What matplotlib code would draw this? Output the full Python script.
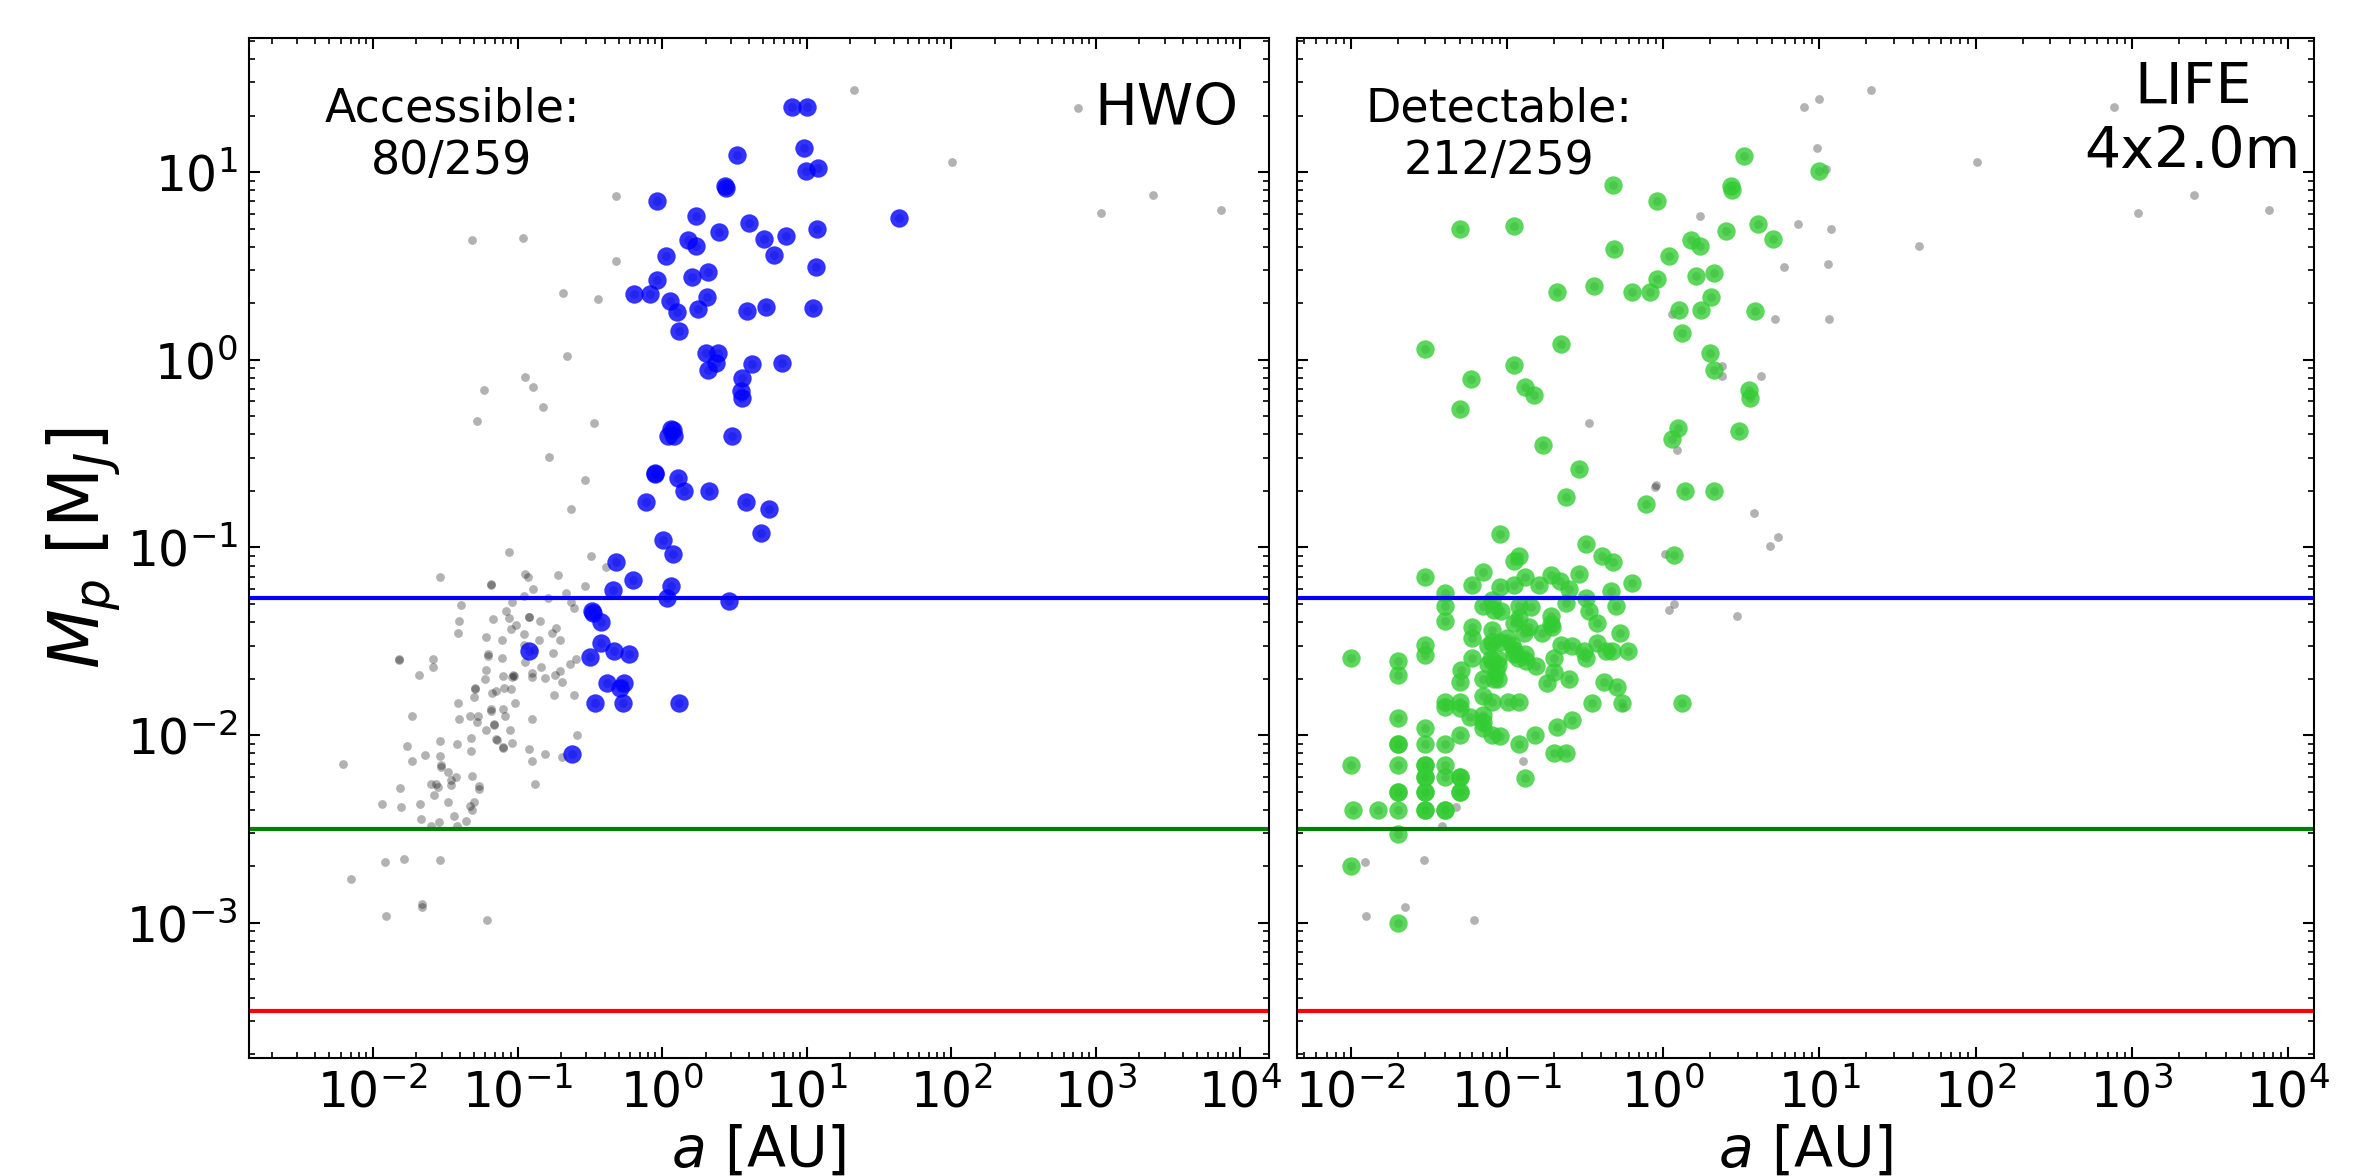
import numpy as np
import matplotlib.pyplot as plt
from matplotlib.ticker import LogLocator, NullFormatter

# reference masses in M_J: Neptune, Earth, Mars
ref_mass = [0.0540, 0.00315, 0.000338]
ref_color = ['blue', 'green', 'red']

# HWO panel: planets not accessible (grey) -- semi-major axis [AU], mass [M_J]
hwo_other_a = [21.2, 753, 101, 0.479, 2500, 1096, 7430, 0.0486, 0.110, 0.479, 0.208, 0.358,
               0.219, 0.113, 0.059, 0.129, 0.149, 0.0525, 0.337, 0.165, 0.295, 0.236,
               0.088, 0.323, 0.412, 0.029, 0.0653, 0.0653, 0.112, 0.119, 0.19, 0.129,
               0.292, 0.218, 0.111, 0.163, 0.0917, 0.236, 0.246, 0.0405, 0.0837, 0.0394,
               0.0676, 0.0873, 0.120, 0.121, 0.143, 0.098, 0.0908, 0.186, 0.172, 0.0387,
               0.111, 0.0603, 0.140, 0.0785, 0.198, 0.111, 0.131, 0.0625, 0.0625, 0.176,
               0.0785, 0.112, 0.0151, 0.0152, 0.026, 0.026, 0.0207, 0.256, 0.232, 0.146,
               0.196, 0.181, 0.125, 0.125, 0.155, 0.202, 0.093, 0.091, 0.095, 0.0603,
               0.079, 0.060, 0.0506, 0.0508, 0.0715, 0.0807, 0.0908, 0.0667, 0.050, 0.178,
               0.246, 0.0387, 0.0962, 0.0653, 0.066, 0.079, 0.0185, 0.0392, 0.0467, 0.0533,
               0.125, 0.0815,
               0.0525, 0.0684, 0.0686, 0.061, 0.0893, 0.0173, 0.029, 0.0379, 0.0474, 0.0474,
               0.0715, 0.0718, 0.079, 0.0793, 0.0912, 0.121, 0.126, 0.156, 0.203, 0.260,
               0.132, 0.0062, 0.0185, 0.0228, 0.029, 0.0297, 0.0297, 0.033, 0.0348, 0.0348,
               0.0373, 0.0484, 0.0538, 0.0538, 0.0254, 0.0275, 0.0282, 0.0153, 0.0264, 0.0497,
               0.033, 0.0115, 0.021, 0.0157, 0.0467, 0.0484, 0.0364, 0.0215, 0.0285, 0.0443,
               0.0251, 0.0384, 0.0122, 0.0163, 0.0291, 0.0071, 0.0218, 0.0219, 0.0124, 0.0615]
hwo_other_m = [27.5, 22.0, 11.3, 7.45, 7.5, 6.05, 6.3, 4.35, 4.43, 3.37, 2.28, 2.10,
               1.05, 0.805, 0.69, 0.716, 0.56, 0.473, 0.46, 0.304, 0.228, 0.161,
               0.0944, 0.0895, 0.0786, 0.070, 0.0633, 0.0640, 0.0722, 0.070, 0.0713, 0.060,
               0.062, 0.0572, 0.0548, 0.0537, 0.0515, 0.0515, 0.0475, 0.0494, 0.046, 0.0408,
               0.0416, 0.042, 0.0428, 0.0425, 0.0408, 0.0387, 0.0369, 0.0373, 0.0352, 0.035,
               0.0347, 0.0334, 0.032, 0.032, 0.032, 0.0303, 0.0285, 0.0271, 0.0263, 0.0274,
               0.0257, 0.0245, 0.0255, 0.0252, 0.0253, 0.0232, 0.021, 0.0254, 0.024, 0.023,
               0.022, 0.021, 0.0214, 0.0204, 0.0202, 0.0192, 0.021, 0.0205, 0.0207, 0.0223,
               0.0207, 0.0199, 0.0178, 0.0176, 0.0172, 0.0178, 0.0177, 0.0168, 0.016, 0.0164,
               0.0164, 0.0149, 0.0149, 0.0138, 0.0135, 0.0138, 0.0126, 0.0122, 0.0126, 0.0126,
               0.0122, 0.0127,
               0.0118, 0.0115, 0.0113, 0.0107, 0.0107, 0.0088, 0.00925, 0.0090, 0.00964, 0.00828,
               0.00953, 0.0094, 0.00863, 0.0085, 0.00907, 0.00847, 0.00725, 0.00796, 0.00764, 0.00997,
               0.00548, 0.00705, 0.0073, 0.00787, 0.00777, 0.00695, 0.00673, 0.00635, 0.00578, 0.00544,
               0.00597, 0.00607, 0.00537, 0.00515, 0.00548, 0.00548, 0.00528, 0.0052, 0.00481, 0.0044,
               0.0044, 0.0043, 0.0043, 0.00412, 0.00417, 0.00401, 0.00369, 0.00359, 0.00343, 0.00347,
               0.0033, 0.0033, 0.00211, 0.00219, 0.00217, 0.00171, 0.00126, 0.00121, 0.00109, 0.00103]

# HWO panel: accessible planets (blue)
hwo_acc_a = [7.87, 10.1, 3.28, 9.6, 9.95, 12.1, 2.73, 2.76, 0.92, 43.4,
             1.72, 4.03, 2.48, 11.9, 1.51, 1.73, 5.06, 7.23, 5.92, 1.07,
             11.6, 2.08, 1.62, 0.92, 0.64, 0.83, 2.04, 1.14, 1.26, 1.77,
             3.86, 5.21, 11.1, 1.31, 2.01, 2.43, 2.38, 2.08, 4.18, 6.73,
             3.55, 3.5, 3.55,
             1.2, 1.1, 1.22, 1.15, 3.07, 0.89, 0.90, 1.29, 1.41, 2.1,
             0.77, 3.81, 5.52, 4.83, 1.02, 1.19, 0.479, 0.63, 0.458, 1.16,
             1.09, 2.93, 0.327, 0.335, 0.376, 0.376, 0.319, 0.464, 0.59, 0.12,
             0.417, 0.543, 0.51, 0.346, 0.535, 1.32, 0.238]
hwo_acc_m = [22.1, 22.1, 12.3, 13.5, 10.1, 10.5, 8.4, 8.2, 7.0, 5.7,
             5.85, 5.35, 4.79, 4.97, 4.33, 4.02, 4.42, 4.54, 3.6, 3.55,
             3.13, 2.92, 2.75, 2.67, 2.25, 2.25, 2.15, 2.05, 1.80, 1.86,
             1.81, 1.92, 1.88, 1.42, 1.09, 1.09, 0.96, 0.877, 0.953, 0.96,
             0.80, 0.684, 0.625,
             0.42, 0.39, 0.39, 0.43, 0.394, 0.249, 0.245, 0.234, 0.199, 0.199,
             0.175, 0.175, 0.161, 0.120, 0.109, 0.092, 0.084, 0.0667, 0.0595, 0.062,
             0.0537, 0.052, 0.046, 0.045, 0.040, 0.031, 0.026, 0.0279, 0.0271, 0.0279,
             0.0189, 0.0189, 0.0178, 0.0149, 0.0149, 0.0149, 0.00796]

# LIFE panel: planets not detectable (grey)
life_other_a = [21.4, 10.0, 7.98, 769, 9.6, 102, 11.0, 2512, 1096, 7586,
                1.73, 7.3, 11.8, 43.2, 5.9, 11.4, 1.14, 5.2, 11.5, 2.39,
                2.39, 4.2, 0.336, 1.22, 0.885, 0.90, 3.8, 5.42, 4.82, 1.03,
                1.17, 1.09, 2.95, 0.55, 0.126, 0.047, 0.0386, 0.0123, 0.0292, 0.0221,
                0.0125, 0.0618]
life_other_m = [27.5, 24.6, 22.1, 22.1, 13.5, 11.3, 10.4, 7.52, 6.05, 6.3,
                5.81, 5.3, 4.99, 4.02, 3.13, 3.25, 1.75, 1.64, 1.64, 0.93,
                0.815, 0.815, 0.46, 0.329, 0.211, 0.215, 0.152, 0.113, 0.102, 0.0925,
                0.0501, 0.0466, 0.0429, 0.0142, 0.00725, 0.00414, 0.00329, 0.00211, 0.00217, 0.00121,
                0.00109, 0.00103]

# LIFE panel: detectable planets (green)
life_det_a = [3.31, 0.479, 2.72, 2.74, 10.0, 0.918, 0.05, 0.110, 4.04, 2.51,
              1.50, 1.73, 5.07, 0.484, 1.09, 1.63, 2.1, 0.91, 0.36, 0.209,
              0.63, 0.82, 2.02, 1.26, 1.75, 3.85, 1.31, 0.030, 0.22, 2.0,
              0.110, 0.059, 2.1, 0.13, 0.149, 3.52, 3.59, 0.050, 1.24, 3.06,
              0.17, 1.13, 0.29, 0.24, 0.77, 1.38, 2.11, 0.0897, 0.319, 1.18,
              0.407, 0.48, 0.119, 0.110, 0.0703, 0.0299, 0.060, 0.090, 0.110, 0.130,
              0.160, 0.19, 0.218, 0.249, 0.29, 0.628, 0.46, 0.040, 0.0798, 0.319,
              0.040, 0.040, 0.0697, 0.0826, 0.0912, 0.119, 0.142, 0.24, 0.335, 0.378,
              0.495, 0.110, 0.060, 0.060, 0.0798, 0.129, 0.138, 0.19, 0.195, 0.168,
              0.528, 0.0798, 0.0897, 0.108, 0.110, 0.221, 0.262, 0.378, 0.030, 0.030,
              0.0199, 0.0199, 0.010, 0.060, 0.0792, 0.088, 0.117, 0.132, 0.2, 0.31,
              0.32, 0.428, 0.472, 0.597, 0.153, 0.088, 0.0506, 0.0503, 0.0697, 0.0826,
              0.088, 0.179, 0.2, 0.249, 0.417, 0.508, 0.0703, 0.040, 0.040, 0.0503,
              0.0503, 0.08, 0.102, 0.12, 0.35, 0.542, 1.32, 0.0199,
              0.030, 0.040, 0.0503, 0.0697, 0.0697, 0.08, 0.09, 0.058, 0.07, 0.119,
              0.150, 0.21, 0.259, 0.2, 0.237, 0.130, 0.010, 0.0199, 0.0199, 0.0199,
              0.0199, 0.030, 0.030, 0.030, 0.030, 0.030, 0.040, 0.040, 0.040, 0.0503,
              0.0503, 0.0103, 0.0149, 0.0199, 0.010, 0.0199,
              0.0199, 0.0199, 0.030, 0.030, 0.030, 0.030, 0.040, 0.0503, 0.0503,
              0.075, 0.085, 0.11, 0.13, 0.19, 0.075, 0.10, 0.12]
life_det_m = [12.2, 8.49, 8.4, 8.05, 10.1, 6.98, 4.99, 5.13, 5.31, 4.86,
              4.32, 4.05, 4.42, 3.89, 3.56, 2.78, 2.9, 2.69, 2.46, 2.29,
              2.29, 2.29, 2.15, 1.83, 1.85, 1.81, 1.39, 1.14, 1.21, 1.09,
              0.94, 0.788, 0.877, 0.714, 0.65, 0.687, 0.625, 0.546, 0.432, 0.415,
              0.352, 0.378, 0.262, 0.185, 0.171, 0.20, 0.201, 0.118, 0.104, 0.0906,
              0.0903, 0.0835, 0.0895, 0.0842, 0.074, 0.0695, 0.0628, 0.0615, 0.0633, 0.070,
              0.0628, 0.0716, 0.0659, 0.060, 0.0722, 0.0646, 0.0583, 0.0572, 0.0526, 0.0537,
              0.0489, 0.0408, 0.0485, 0.0466, 0.0456, 0.0489, 0.0479, 0.0505, 0.0456, 0.0395,
              0.0489, 0.0398, 0.0379, 0.0329, 0.0365, 0.035, 0.0379, 0.0429, 0.0379, 0.035,
              0.035, 0.0312, 0.0312, 0.0303, 0.0285, 0.0303, 0.0297, 0.031, 0.0303, 0.0268,
              0.0249, 0.021, 0.0258, 0.0258, 0.0253, 0.0253, 0.0258, 0.0248, 0.0258, 0.0279,
              0.0258, 0.0279, 0.0279, 0.0279, 0.0234, 0.0236, 0.0223, 0.0193, 0.0198, 0.0198,
              0.0198, 0.0189, 0.0218, 0.0199, 0.0191, 0.0180, 0.0161, 0.0151, 0.0141, 0.015,
              0.014, 0.0151, 0.0151, 0.0151, 0.0149, 0.0149, 0.0149, 0.0123,
              0.0109, 0.009, 0.010, 0.0128, 0.0109, 0.010, 0.0099, 0.0125, 0.0117, 0.009,
              0.010, 0.011, 0.012, 0.00803, 0.00803, 0.00594, 0.00695, 0.009, 0.00695, 0.005,
              0.004, 0.009, 0.00695, 0.00597, 0.005, 0.004, 0.00695, 0.00597, 0.004, 0.00597,
              0.005, 0.004, 0.004, 0.00297, 0.002, 0.000998,
              0.009, 0.005, 0.00695, 0.00597, 0.005, 0.004, 0.004, 0.00597, 0.005,
              0.024, 0.022, 0.027, 0.027, 0.039, 0.030, 0.033, 0.042]

fig = plt.figure(figsize=(23.77, 11.76), dpi=100)
ax1 = fig.add_axes([0.10475, 0.10034, 0.42911, 0.86735])
ax2 = fig.add_axes([0.54565, 0.10034, 0.42785, 0.86735])


def panel(ax, other_a, other_m, sel_a, sel_m, color):
    # all planets in grey, the selected ones on top in colour
    ax.scatter(other_a + sel_a, other_m + sel_m, s=40, c='k', alpha=0.3, lw=0)
    ax.scatter(sel_a, sel_m, s=175, c=color, alpha=0.8, lw=0)
    for m, c in zip(ref_mass, ref_color):
        ax.axhline(m, color=c, lw=3)
    ax.set_xscale('log')
    ax.set_yscale('log')
    ax.set_ylim(10**-3.72, 10**1.714)
    for axis in (ax.xaxis, ax.yaxis):
        axis.set_major_locator(LogLocator(base=10, numticks=100))
        axis.set_minor_locator(LogLocator(base=10, subs=np.arange(2, 10), numticks=100))
        axis.set_minor_formatter(NullFormatter())
    ax.tick_params(which='both', direction='in', top=True, right=True, labelsize=35)
    ax.tick_params(which='major', length=8, width=1.5, pad=8)
    ax.tick_params(which='minor', length=4.5, width=1.2)
    for sp in ax.spines.values():
        sp.set_linewidth(1.5)
    ax.set_xlabel(r'$a$ [AU]', fontsize=41, labelpad=4)


panel(ax1, hwo_other_a, hwo_other_m, hwo_acc_a, hwo_acc_m, 'blue')
panel(ax2, life_other_a, life_other_m, life_det_a, life_det_m, 'limegreen')

ax1.set_xlim(10**-2.858, 10**4.2)
ax2.set_xlim(10**-2.345, 10**4.167)
ax2.tick_params(labelleft=False)

ax1.set_ylabel(r'$M_p$ [M$_J$]', fontsize=50, labelpad=2)

ax1.text(0.199, 0.952, 'Accessible:\n80/259', transform=ax1.transAxes,
         ha='center', va='top', fontsize=33)
ax1.text(0.97, 0.957, 'HWO', transform=ax1.transAxes, ha='right', va='top', fontsize=41)
ax2.text(0.199, 0.952, 'Detectable:\n212/259', transform=ax2.transAxes,
         ha='center', va='top', fontsize=33)
ax2.text(0.987, 0.977, 'LIFE\n4x2.0m', transform=ax2.transAxes, ha='right', va='top',
         multialignment='center', fontsize=41)

plt.savefig('out.png', dpi=100)
